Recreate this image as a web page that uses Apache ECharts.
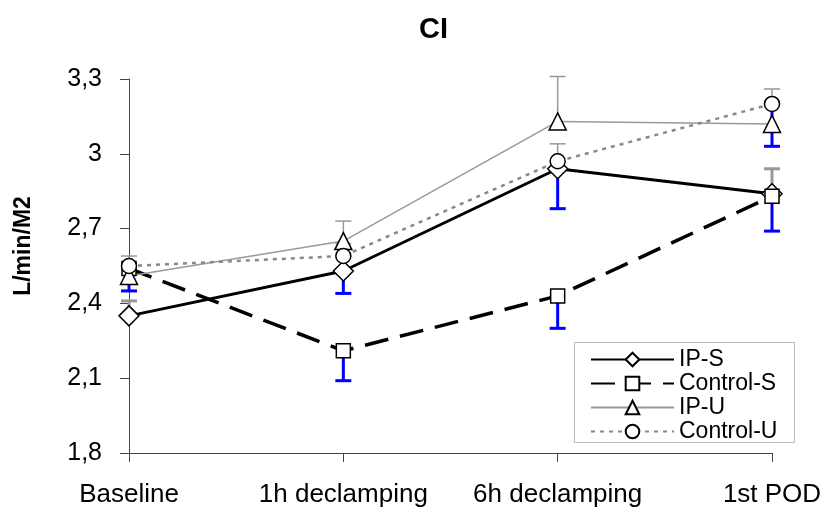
<!DOCTYPE html>
<html>
<head>
<meta charset="utf-8">
<title>CI</title>
<script src="https://cdn.jsdelivr.net/npm/echarts@6/dist/echarts.min.js"></script>
<style>
  html, body { margin: 0; padding: 0; background: #fff; }
  #chart { width: 831px; height: 516px; }
</style>
</head>
<body>
<div id="chart"></div>
<script>
// Time points
const categories = ['Baseline', '1h declamping', '6h declamping', '1st POD'];

// Cardiac index means (L/min/M2)
const ipS      = [2.35, 2.53, 2.94, 2.84];
const controlS = [2.54, 2.21, 2.43, 2.83];
const ipU      = [2.51, 2.65, 3.13, 3.12];
const controlU = [2.55, 2.59, 2.97, 3.20];

// Error bar ends (null where no bar is shown)
const ipSUpper      = [2.41, null, null, 2.94];
const ipSLower      = [null, 2.44, 2.78, null];
const controlSLower = [2.45, 2.09, 2.30, 2.69];
const ipUUpper      = [null, 2.73, 3.31, null];
const controlUUpper = [2.59, 2.64, 3.04, 3.26];
const controlULower = [null, null, null, 3.03];

// Y axis ticks
const yTicks = [1.8, 2.1, 2.4, 2.7, 3.0, 3.3];

// Bar styles: 0 = thick blue, 1 = thick grey, 2 = thin grey
const barStyles = [
  { color: '#0000ff', width: 3 },
  { color: '#999999', width: 3 },
  { color: '#999999', width: 1.5 }
];

function collectBars(means, ends, style, out) {
  ends.forEach(function (end, i) {
    if (end !== null) out.push([i, means[i], end, style]);
  });
}
const errorData = [];
collectBars(ipS, ipSUpper, 1, errorData);
collectBars(ipS, ipSLower, 0, errorData);
collectBars(controlS, controlSLower, 0, errorData);
collectBars(ipU, ipUUpper, 2, errorData);
collectBars(controlU, controlUUpper, 2, errorData);
collectBars(controlU, controlULower, 0, errorData);

function renderErrorBar(params, api) {
  const p0 = api.coord([api.value(0), api.value(1)]);
  const p1 = api.coord([api.value(0), api.value(2)]);
  const st = barStyles[api.value(3)];
  const half = 8;
  const style = { stroke: st.color, lineWidth: st.width, fill: null };
  return {
    type: 'group',
    children: [
      { type: 'line', shape: { x1: p0[0], y1: p0[1], x2: p1[0], y2: p1[1] }, style: style },
      { type: 'line', shape: { x1: p1[0] - half, y1: p1[1], x2: p1[0] + half, y2: p1[1] }, style: style }
    ]
  };
}

const markerStyle = { color: '#ffffff', borderColor: '#000000', borderWidth: 1.5 };
const fontFamily = 'Liberation Sans, Arial, sans-serif';

const chart = echarts.init(document.getElementById('chart'), null, { renderer: 'canvas' });
chart.setOption({
  animation: false,
  backgroundColor: '#ffffff',
  textStyle: { fontFamily: fontFamily, color: '#000' },
  title: {
    text: 'CI',
    left: 419,
    top: 15,
    padding: 0,
    textStyle: { fontSize: 29, fontWeight: 'bold', color: '#000', fontFamily: fontFamily }
  },
  grid: { left: 129, right: 59, top: 79, bottom: 63 },
  legend: {
    data: ['IP-S', 'Control-S', 'IP-U', 'Control-U'],
    orient: 'vertical',
    left: 590,
    top: 348,
    padding: 0,
    itemWidth: 83,
    itemHeight: 17,
    itemGap: 1,
    selectedMode: false,
    textStyle: { fontSize: 23, lineHeight: 20, color: '#000', fontFamily: fontFamily }
  },
  graphic: [
    {
      type: 'rect',
      shape: { x: 574.5, y: 342.5, width: 220, height: 100 },
      style: { fill: null, stroke: '#bbbbbb', lineWidth: 1 },
      z: 0
    },
    {
      type: 'text',
      x: 24,
      y: 246,
      rotation: Math.PI / 2,
      style: {
        text: 'L/min/M2',
        font: 'bold 23px "Liberation Sans", Arial, sans-serif',
        fill: '#000',
        textAlign: 'center',
        textVerticalAlign: 'middle'
      }
    }
  ],
  xAxis: {
    type: 'category',
    data: categories,
    boundaryGap: false,
    axisLine: { lineStyle: { color: '#444', width: 1 } },
    axisTick: { show: true, length: 9, interval: 0, lineStyle: { color: '#444' } },
    axisLabel: { fontSize: 26, color: '#000', margin: 29, interval: 0, hideOverlap: false, fontFamily: fontFamily },
    splitLine: { show: false }
  },
  yAxis: {
    type: 'value',
    min: yTicks[0],
    max: yTicks[yTicks.length - 1],
    interval: 0.3,
    axisLine: { show: true, lineStyle: { color: '#444', width: 1 } },
    axisTick: { show: true, length: 9, lineStyle: { color: '#444' } },
    axisLabel: {
      fontSize: 25,
      color: '#000',
      margin: 27,
      fontFamily: fontFamily,
      formatter: function (v) { return String(+v.toFixed(1)).replace('.', ','); }
    },
    splitLine: { show: false }
  },
  series: [
    {
      type: 'custom',
      name: 'errors',
      renderItem: renderErrorBar,
      data: errorData,
      z: 1,
      silent: true
    },
    {
      name: 'IP-S', type: 'line', data: ipS, z: 2,
      symbol: 'diamond', symbolSize: 20,
      lineStyle: { color: '#000', width: 3, type: 'solid' },
      itemStyle: markerStyle
    },
    {
      name: 'Control-S', type: 'line', data: controlS, z: 2,
      symbol: 'rect', symbolSize: 14,
      lineStyle: { color: '#000', width: 3.5, type: [24, 12] },
      itemStyle: markerStyle
    },
    {
      name: 'IP-U', type: 'line', data: ipU, z: 2,
      symbol: 'triangle', symbolSize: 17,
      lineStyle: { color: '#999999', width: 1.5, type: 'solid' },
      itemStyle: markerStyle
    },
    {
      name: 'Control-U', type: 'line', data: controlU, z: 2,
      symbol: 'circle', symbolSize: 15,
      lineStyle: { color: '#888888', width: 2.5, type: [4, 5] },
      itemStyle: markerStyle
    }
  ]
});
</script>
</body>
</html>
